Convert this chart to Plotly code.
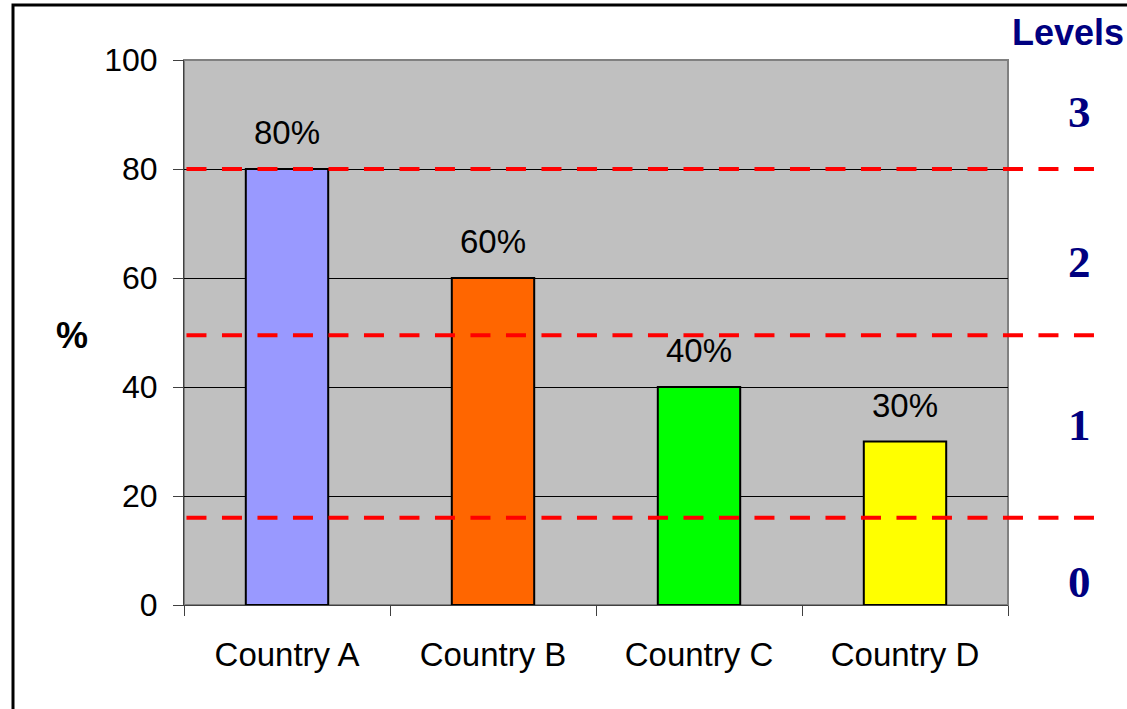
import plotly.graph_objects as go

# ---- data ----
countries = ["Country A", "Country B", "Country C", "Country D"]
percent = [80, 60, 40, 30]
bar_colors = ["#9999FF", "#FF6600", "#00FF00", "#FFFF00"]
thresholds = [80, 49.5, 16]
level_labels = ["3", "2", "1", "0"]
level_label_y = [90.5, 63, 33, 4.2]
y_ticks = [0, 20, 40, 60, 80, 100]

W, H = 1127, 709
L, R, T, B = 184, 119, 60, 104
pw = W - L - R
ph = H - T - B

fig = go.Figure()
fig.add_trace(go.Bar(
    x=countries, y=percent,
    marker=dict(color=bar_colors, line=dict(color="black", width=2)),
    hoverinfo="skip",
))

annotations = []
for c, v in zip(countries, percent):
    annotations.append(dict(
        x=c, y=v, xref="x", yref="y", text=f"{v}%", showarrow=False,
        yanchor="bottom", yshift=16,
        font=dict(family="Arial, Liberation Sans", size=33, color="black"),
    ))
for lab, yy in zip(level_labels, level_label_y):
    annotations.append(dict(
        x=(1079 - L) / pw, y=yy, xref="paper", yref="y", text=f"<b>{lab}</b>",
        showarrow=False, xanchor="center", yanchor="middle",
        font=dict(family="Liberation Serif, Times New Roman, serif", size=45, color="#000080"),
    ))
annotations.append(dict(
    x=(1068 - L) / pw, y=(H - B - 33) / ph, xref="paper", yref="paper",
    text="<b>Levels</b>", showarrow=False, xanchor="center", yanchor="middle",
    font=dict(family="Arial, Liberation Sans", size=36, color="#000080"),
))
annotations.append(dict(
    x=(72 - L) / pw, y=(H - B - 335) / ph, xref="paper", yref="paper",
    text="<b>%</b>", showarrow=False, xanchor="center", yanchor="middle",
    font=dict(family="Arial, Liberation Sans", size=36, color="black"),
))

shapes = []
for t in thresholds:
    shapes.append(dict(
        type="line", xref="paper", yref="y", x0=0.003, x1=(1095 - L) / pw, y0=t, y1=t,
        line=dict(color="#FF0000", width=4, dash="20px,15.5px"), layer="above",
    ))
# plot area border
shapes.append(dict(type="rect", xref="paper", yref="paper", x0=0, x1=1, y0=0, y1=1,
                   line=dict(color="#808080", width=2), layer="below"))
# outer frame
shapes.append(dict(type="rect", xref="paper", yref="paper",
                   x0=(13 - L) / pw, x1=(W + 5 - L) / pw,
                   y0=(H - B - (H + 5)) / ph, y1=(H - B - 5) / ph,
                   line=dict(color="black", width=3), layer="below"))

fig.update_layout(
    width=W, height=H,
    margin=dict(l=L, r=R, t=T, b=B, autoexpand=False),
    paper_bgcolor="white", plot_bgcolor="#C0C0C0",
    bargap=0.6, showlegend=False,
    annotations=annotations, shapes=shapes,
    font=dict(family="Arial, Liberation Sans", color="black"),
)
fig.update_xaxes(
    type="category", tickson="boundaries", ticks="outside", ticklen=10, tickwidth=1,
    tickcolor="#404040", showline=True, linecolor="#404040", linewidth=1,
    showgrid=False, tickfont=dict(size=33, color="black"), ticklabelstandoff=20,
)
fig.update_yaxes(
    range=[0, 100], tickvals=y_ticks, ticks="outside", ticklen=10, tickwidth=1,
    tickcolor="#404040", showline=True, linecolor="#404040", linewidth=1,
    showgrid=True, gridcolor="black", gridwidth=1, zeroline=False,
    tickfont=dict(size=32, color="black"), ticklabelstandoff=9,
)

fig.write_html("out.html")
